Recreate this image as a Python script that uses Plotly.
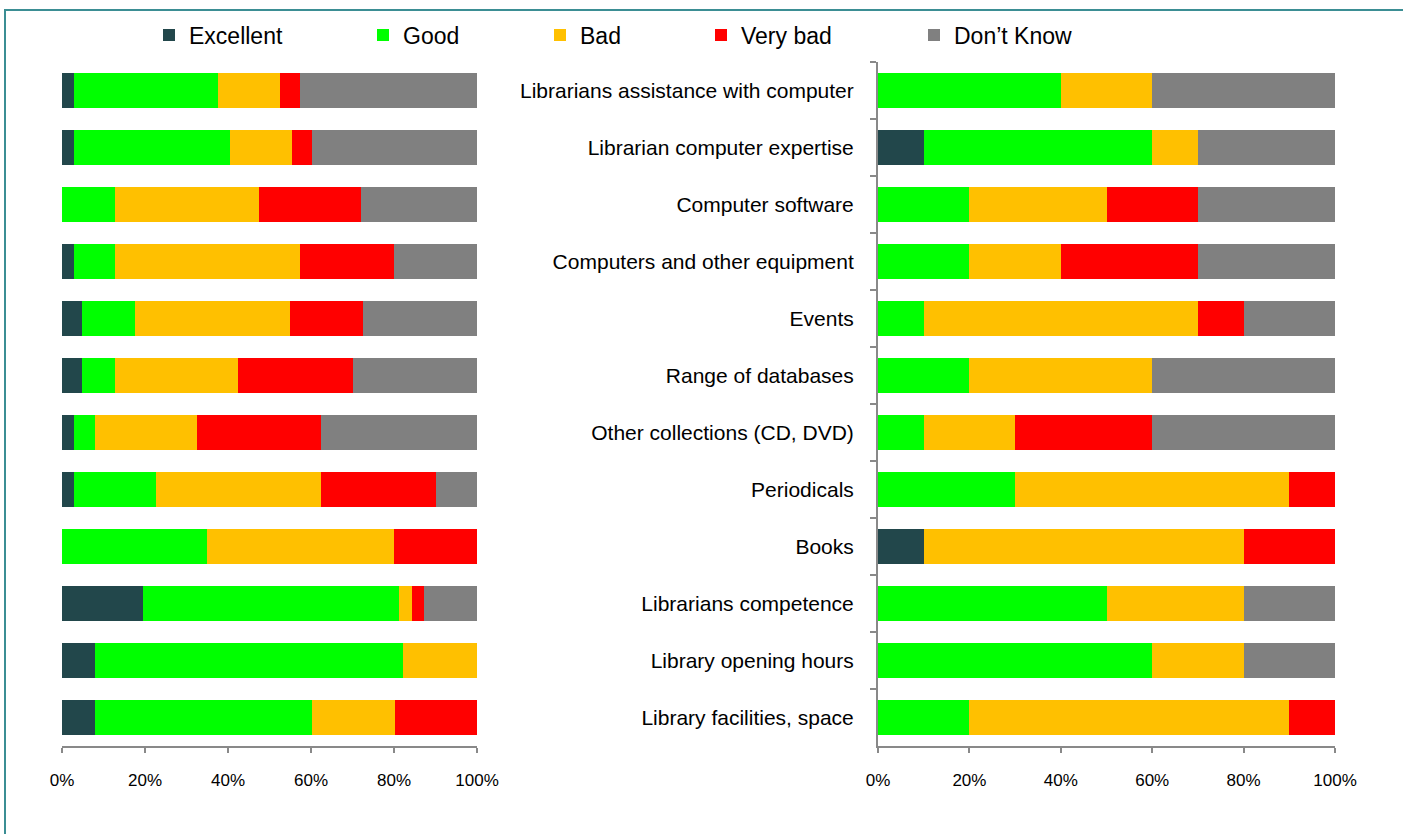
import plotly.graph_objects as go

W, H = 1403, 834

ratings = ["Excellent", "Good", "Bad", "Very bad", "Don\u2019t Know"]
colors = ["#22474B", "#00FF00", "#FFC000", "#FF0000", "#808080"]

services = [
    "Librarians assistance with computer",
    "Librarian computer expertise",
    "Computer software",
    "Computers and other equipment",
    "Events",
    "Range of databases",
    "Other collections (CD, DVD)",
    "Periodicals",
    "Books",
    "Librarians competence",
    "Library opening hours",
    "Library facilities, space",
]

# left panel (no labels shown), one list per rating, same row order as services
left_excellent = [3.0, 3.0, 0.0, 3.0, 4.9, 4.9, 3.0, 3.0, 0.0, 19.5, 7.9, 7.9]
left_good = [34.6, 37.5, 12.8, 9.8, 12.7, 7.9, 4.9, 19.7, 34.9, 61.8, 74.3, 52.3]
left_bad = [14.9, 14.9, 34.7, 44.5, 37.3, 29.7, 24.7, 39.7, 45.1, 3.0, 17.8, 20.0]
left_verybad = [4.8, 4.9, 24.5, 22.8, 17.6, 27.7, 29.7, 27.7, 20.0, 3.0, 0.0, 19.8]
left_dontknow = [42.7, 39.7, 28.0, 19.9, 27.5, 29.8, 37.7, 9.9, 0.0, 12.7, 0.0, 0.0]

# right panel
right_excellent = [0, 10, 0, 0, 0, 0, 0, 0, 10, 0, 0, 0]
right_good = [40, 50, 20, 20, 10, 20, 10, 30, 0, 50, 60, 20]
right_bad = [20, 10, 30, 20, 60, 40, 20, 60, 70, 30, 20, 70]
right_verybad = [0, 0, 20, 30, 10, 0, 30, 10, 20, 0, 0, 10]
right_dontknow = [40, 30, 30, 30, 20, 40, 40, 0, 0, 20, 20, 0]

tick_vals = [0, 20, 40, 60, 80, 100]
tick_text = ["0%", "20%", "40%", "60%", "80%", "100%"]

left_series = [left_excellent, left_good, left_bad, left_verybad, left_dontknow]
right_series = [right_excellent, right_good, right_bad, right_verybad, right_dontknow]

# left edge of each little legend, px
legend_px = [149, 363, 540, 701, 914]

FONT = "Liberation Sans, Arial, sans-serif"

fig = go.Figure()
for i, (name, col) in enumerate(zip(ratings, colors)):
    lg = "legend" if i == 0 else "legend%d" % (i + 1)
    fig.add_trace(go.Bar(y=services, x=left_series[i], orientation="h", name=name,
                         marker=dict(color=col, line=dict(width=0)),
                         xaxis="x", yaxis="y", legend=lg, showlegend=True))
    fig.add_trace(go.Bar(y=services, x=right_series[i], orientation="h", name=name,
                         marker=dict(color=col, line=dict(width=0)),
                         xaxis="x2", yaxis="y2", showlegend=False))

ybot = (H - 746) / H
ytop = (H - 62) / H

axis_common = dict(range=[0, 100], tickvals=tick_vals, ticktext=tick_text,
                   showgrid=False, zeroline=False, showline=True, linecolor="#898989",
                   linewidth=2, ticks="outside", ticklen=5, tickwidth=2, tickcolor="#898989",
                   ticklabelstandoff=13, automargin=False,
                   tickfont=dict(size=17, color="#000000", family=FONT), fixedrange=True)

layout = dict(
    width=W, height=H,
    margin=dict(l=0, r=0, t=0, b=0, autoexpand=False),
    barmode="stack", bargap=0.4,
    plot_bgcolor="white", paper_bgcolor="white",
    font=dict(family=FONT, color="#000000"),
    xaxis=dict(domain=[62 / W, 477 / W], anchor="y", **axis_common),
    xaxis2=dict(domain=[878 / W, 1335 / W], anchor="y2", **axis_common),
    yaxis=dict(domain=[ybot, ytop], anchor="x", autorange="reversed",
               showticklabels=False, showline=False, ticks="", showgrid=False,
               automargin=False, fixedrange=True),
    yaxis2=dict(domain=[ybot, ytop], anchor="x2", autorange="reversed",
                showline=True, linecolor="#898989", linewidth=2,
                ticks="outside", tickson="boundaries", ticklen=6, tickwidth=2,
                tickcolor="#898989", showgrid=False, ticklabelstandoff=18,
                automargin=False,
                tickfont=dict(size=21, color="#000000", family=FONT), fixedrange=True),
    shapes=[dict(type="rect", xref="paper", yref="paper",
                 x0=5 / W, x1=1.02, y0=-0.02, y1=1 - 10 / H,
                 line=dict(color="#3B8E94", width=2), fillcolor="rgba(0,0,0,0)",
                 layer="above")],
)

for i, px in enumerate(legend_px):
    key = "legend" if i == 0 else "legend%d" % (i + 1)
    layout[key] = dict(x=px / W, y=1 - 35 / H, xanchor="left", yanchor="middle",
                       orientation="h", bgcolor="rgba(0,0,0,0)", borderwidth=0,
                       font=dict(size=23, family=FONT, color="#000000"),
                       itemclick=False, itemdoubleclick=False)

fig.update_layout(**layout)

fig.write_html("out.html", config={"displayModeBar": False},
               post_script="document.body.style.margin='0';")
